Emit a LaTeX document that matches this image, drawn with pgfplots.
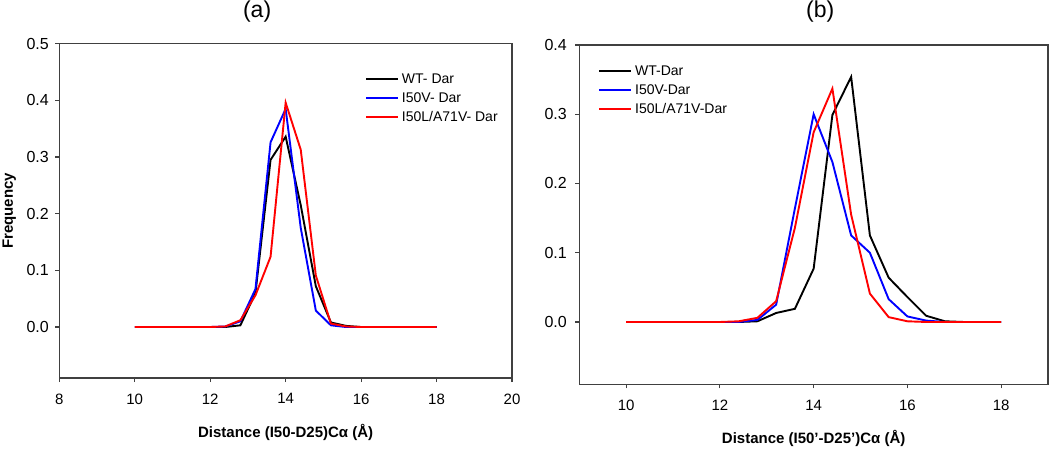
\documentclass[border=0pt]{standalone}
\usepackage{pgfplots}
\pgfplotsset{compat=1.18}
\usepackage{fontspec}
\setmainfont{Liberation Sans}
\definecolor{axgray}{HTML}{404040}
\begin{document}
\begin{tikzpicture}
\path[use as bounding box] (0pt,0pt) rectangle (1050pt,448pt);
\pgfplotsset{
  myaxis/.style={
    scale only axis,
    axis line style={axgray, line width=1.2pt},
    tick style={axgray, line width=1.1pt},
    tick align=outside,
    major tick length=4pt,
    tick pos=left,
    font=\fontsize{15}{17}\selectfont,
    /pgf/number format/assume math mode=true,
    yticklabel style={font=\fontsize{16}{18}\selectfont,/pgf/number format/fixed,/pgf/number format/fixed zerofill,/pgf/number format/precision=1},
    xticklabel style={yshift=-8pt},
    label style={font=\fontsize{15}{17}\selectfont\bfseries},
    legend style={draw=none, fill=none, inner sep=0pt, row sep=5pt,
      nodes={inner xsep=3pt, inner ysep=0pt, text height=11pt, text depth=3pt, anchor=west},
      font=\fontsize{14}{16}\selectfont},
    legend cell align=left,
    legend image code/.code={\draw[##1] (0pt,0pt) -- (32pt,0pt);},
    every axis plot/.append style={line width=1.9pt, mark=none},
    every axis title shift=0pt,
    title style={font=\fontsize{23}{26}\selectfont, anchor=center},
  }
}
\begin{axis}[myaxis,
  at={(59.3pt,70pt)}, anchor=south west,
  width=452.7pt, height=334.3pt,
  xmin=8, xmax=20, ymin=-0.09, ymax=0.5,
  xtick={8,10,...,20}, ytick={0,0.1,...,0.5},
  yticklabel style={xshift=-3pt},
  xlabel={Distance (I50-D25)Cα (Å)},
  ylabel={Frequency},
  xlabel style={at={(0.5,0)}, anchor=center, yshift=-54pt},
  ylabel style={at={(0,0.5)}, anchor=center, yshift=50pt},
  title={(a)}, title style={at={(0.437,1)}, yshift=31.7pt},
  legend style={at={(0.675,0.915)}, anchor=north west},
]
\addplot[black] coordinates {(10,0)(10.4,0)(10.8,0)(11.2,0)(11.6,0)(12,0)(12.4,0.000)(12.8,0.003)(13.2,0.060)(13.6,0.295)(14,0.336)(14.4,0.215)(14.8,0.072)(15.2,0.008)(15.6,0.002)(16,0)(16.4,0)(16.8,0)(17.2,0)(17.6,0)(18,0)};
\addplot[blue] coordinates {(10,0)(10.4,0)(10.8,0)(11.2,0)(11.6,0)(12,0)(12.4,0.001)(12.8,0.010)(13.2,0.067)(13.6,0.326)(14,0.385)(14.4,0.175)(14.8,0.029)(15.2,0.003)(15.6,0)(16,0)(16.4,0)(16.8,0)(17.2,0)(17.6,0)(18,0)};
\addplot[red] coordinates {(10,0)(10.4,0)(10.8,0)(11.2,0)(11.6,0)(12,0)(12.4,0.001)(12.8,0.012)(13.2,0.056)(13.6,0.124)(14,0.396)(14.4,0.313)(14.8,0.091)(15.2,0.006)(15.6,0.001)(16,0)(16.4,0)(16.8,0)(17.2,0)(17.6,0)(18,0)};
\legend{WT- Dar, I50V- Dar, I50L/A71V- Dar}
\end{axis}
\begin{axis}[myaxis,
  at={(579.3pt,63.7pt)}, anchor=south west,
  width=468.7pt, height=339.3pt,
  xmin=9, xmax=19, ymin=-0.09, ymax=0.4,
  xtick={10,12,...,18}, ytick={0,0.1,...,0.4},
  yticklabel style={xshift=-5pt},
  xlabel={Distance (I50'-D25')Cα (Å)},
  xlabel style={at={(0.5,0)}, anchor=center, yshift=-54pt},
  title={(b)}, title style={at={(0.514,1)}, yshift=33pt},
  legend style={at={(0.04,0.944)}, anchor=north west},
]
\addplot[black] coordinates {(10,0)(10.4,0)(10.8,0)(11.2,0)(11.6,0)(12,0)(12.4,0)(12.8,0.001)(13.2,0.013)(13.6,0.019)(14,0.077)(14.4,0.299)(14.8,0.354)(15.2,0.125)(15.6,0.064)(16,0.036)(16.4,0.009)(16.8,0.001)(17.2,0)(17.6,0)(18,0)};
\addplot[blue] coordinates {(10,0)(10.4,0)(10.8,0)(11.2,0)(11.6,0)(12,0)(12.4,0)(12.8,0.003)(13.2,0.025)(13.6,0.164)(14,0.300)(14.4,0.231)(14.8,0.125)(15.2,0.100)(15.6,0.033)(16,0.008)(16.4,0.002)(16.8,0)(17.2,0)(17.6,0)(18,0)};
\addplot[red] coordinates {(10,0)(10.4,0)(10.8,0)(11.2,0)(11.6,0)(12,0)(12.4,0.001)(12.8,0.006)(13.2,0.030)(13.6,0.136)(14,0.274)(14.4,0.337)(14.8,0.155)(15.2,0.041)(15.6,0.007)(16,0.001)(16.4,0)(16.8,0)(17.2,0)(17.6,0)(18,0)};
\legend{WT-Dar, I50V-Dar, I50L/A71V-Dar}
\end{axis}
\end{tikzpicture}
\end{document}
